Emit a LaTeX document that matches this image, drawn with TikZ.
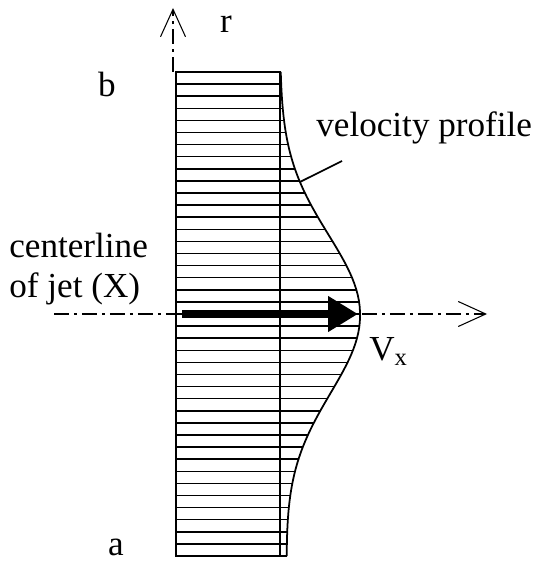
\documentclass[tikz,border=0pt]{standalone}
\usepackage{fontspec}
\setmainfont{Liberation Serif}
\usetikzlibrary{arrows.meta}

\begin{document}
\begin{tikzpicture}[x=0.02cm, y=-0.02cm,
  every node/.style={font=\fontsize{20}{24}\selectfont, inner sep=0pt},
  outline/.style={line width=1pt},
  stripe/.style={line width=0.9pt},
  axisline/.style={line width=0.6pt, dash pattern=on 0.3cm off 0.1cm on 0.06cm off 0.1cm,
    -{Straight Barb[length=0.55cm, width=0.5cm]}},
  declare function={vprof(\t)=280+80*exp(-((\t-314)/112)*((\t-314)/112))+(\t>314)*6*(\t-314)/242;}]
  \useasboundingbox (0,0) rectangle (535,563);

  % Radial axis
  \coordinate (r-start) at (173,72);
  \coordinate (r-end) at (173,8);
  \draw[axisline] (r-start) -- (r-end);
  \node[anchor=base] (rlabel) at (226,33) {r};

  % Jet cross-section with stripes
  \foreach \k in {0,...,40} {
    \pgfmathsetmacro{\yy}{72+\k*12.1}
    \pgfmathsetmacro{\xx}{vprof(\yy)}
    \draw[stripe] (176,\yy) -- (\xx,\yy);
  }
  \draw[outline] (176,72) rectangle (280,556);

  % Velocity profile
  \draw[outline] plot[domain=72:556, samples=90, variable=\t] ({vprof(\t)},\t);
  \node[anchor=base west] (vprofile) at (316,137) {velocity profile};
  \coordinate (lead-a) at (342,161);
  \coordinate (lead-b) at ({vprof(182)},182);
  \draw[outline] (lead-a) -- (lead-b);

  % Centerline of the jet
  \coordinate (cl-start) at (54,314);
  \coordinate (cl-end) at (487,314);
  \draw[axisline] (cl-start) -- (cl-end);
  \node[anchor=base west] (cline) at (9,257) {centerline};
  \node[anchor=base west] (cjet) at (9,297) {of jet (X)};

  % Maximum velocity
  \coordinate (v-tail) at (182,314);
  \coordinate (v-tip) at (358,314);
  \draw[line width=4.5pt, -{Triangle[length=0.6cm, width=0.68cm]}] (v-tail) -- (v-tip);
  \node[anchor=base west] (vx) at (369,360) {V\textsubscript{x}};

  % Edges
  \node[anchor=base] (blabel) at (107,97) {b};
  \node[anchor=base] (alabel) at (116,555) {a};
\end{tikzpicture}
\end{document}
